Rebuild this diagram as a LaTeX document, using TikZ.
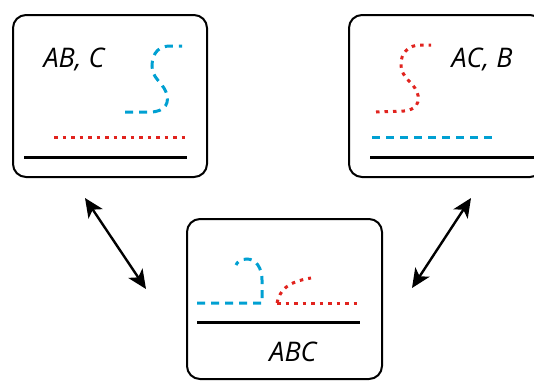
\documentclass[tikz,border=0pt]{standalone}
\usepackage{fontspec}
\setmainfont{Open Sans}
\usetikzlibrary{arrows.meta}
\definecolor{strandblue}{RGB}{0,160,210}
\definecolor{strandred}{RGB}{225,35,30}
\tikzset{
  panel/.style={draw=black, line width=2pt, rounded corners=13pt, inner sep=0pt},
  label/.style={font=\fontsize{27}{31}\selectfont\itshape, inner sep=0pt},
  base/.style={line width=3pt},
  bluestrand/.style={draw=strandblue, line width=3pt, dash pattern=on 8pt off 6pt},
  redstrand/.style={draw=strandred, line width=3pt, dash pattern=on 3.5pt off 5pt},
  tip/.tip={Stealth[length=19pt,width=17pt,inset=5pt]},
  exchange/.style={line width=2.4pt, tip-tip}
}
\begin{document}
\begin{tikzpicture}[x=1pt,y=-1pt]
\useasboundingbox (0,0) rectangle (534,381);
\clip (0,0) rectangle (534,381);

% the three panels
\node[panel, minimum width=194pt, minimum height=162pt] (p1) at (110,96) {};
\node[panel, minimum width=194pt, minimum height=162pt] (p2) at (446,96) {};
\node[panel, minimum width=195pt, minimum height=160pt] (p3) at (284.5,299) {};

% panel AB, C
\node[label] (l1) at (74,59) {AB, C};
\draw[base] (24,157) -- (187,157);
\draw[redstrand] (54,137) -- (187,137);
\draw[bluestrand] (125,112) -- (150,112)
  .. controls (166,112) and (170,102) .. (166,92)
  .. controls (162,82) and (152,78) .. (152,66)
  .. controls (152,52) and (160,46) .. (170,46) -- (182,46);

% panel AC, B
\node[label] (l2) at (482,59) {AC, B};
\draw[base] (370,157) -- (540,157);
\draw[bluestrand] (372,137) -- (492,137);
\draw[redstrand] (376,112) -- (404,111)
  .. controls (416,110) and (421,102) .. (417,92)
  .. controls (413,82) and (402,78) .. (401,66)
  .. controls (400,52) and (410,45) .. (420,45) -- (431,45);

% panel ABC
\node[label] (l3) at (293,352) {ABC};
\draw[base] (197,322) -- (360,322);
\draw[bluestrand] (197,303) -- (262,303) -- (262,280)
  .. controls (262,268) and (256,259) .. (247,259)
  .. controls (241,259) and (237,262) .. (236,265);
\draw[redstrand] (277,303) -- (360,303);
\draw[redstrand] (277,303)
  .. controls (280,290) and (287,282) .. (311,278);

% exchange arrows between the panels
\coordinate (a1) at (85,198);
\coordinate (b1) at (146,289);
\coordinate (a2) at (471,198);
\coordinate (b2) at (412,288);
\draw[exchange] (a1) -- (b1);
\draw[exchange] (a2) -- (b2);
\end{tikzpicture}
\end{document}
